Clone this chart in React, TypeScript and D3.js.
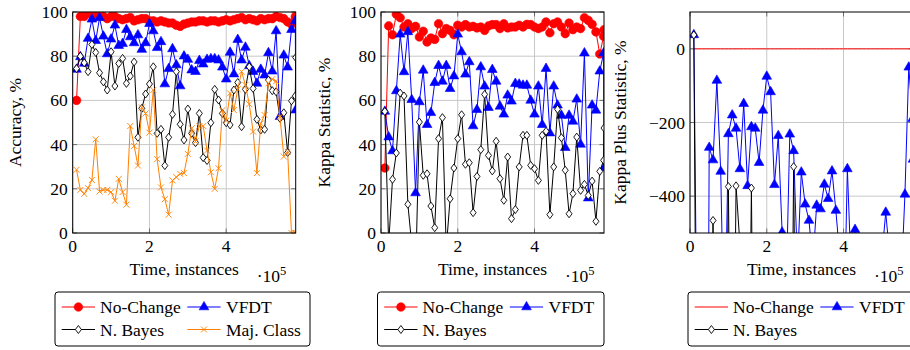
import React from "react";
import * as d3 from "d3";

// x positions: instances seen so far (covertype stream, 581012 rows)
const instances = [
  10000, 20000, 30000, 40000, 50000, 60000, 70000, 80000, 90000, 100000,
  110000, 120000, 130000, 140000, 150000, 160000, 170000, 180000, 190000, 200000,
  210000, 220000, 230000, 240000, 250000, 260000, 270000, 280000, 290000, 300000,
  310000, 320000, 330000, 340000, 350000, 360000, 370000, 380000, 390000, 400000,
  410000, 420000, 430000, 440000, 450000, 460000, 470000, 480000, 490000, 500000,
  510000, 520000, 530000, 540000, 550000, 560000, 570000, 580000, 581012
];
const xMax = 581012;
const xTicks = [0, 200000, 400000];
const xTickLabels = ["0", "2", "4"];

const accuracyTicks = [0, 20, 40, 60, 80, 100];
const kappaTicks = [0, 20, 40, 60, 80, 100];
const kappaPlusTicks = [-400, -200, 0];
const kappaPlusTickLabels = ["\u2212400", "\u2212200", "0"];

// Accuracy, %
const accNoChange = [
  60, 98, 98, 99.5, 99, 98, 98.5, 98, 97, 98, 98, 97, 96.5, 97, 97.5, 96, 96.5, 97, 97, 96,
  96, 95.5, 96, 95.5, 95, 95, 94, 93.5, 94.5, 95, 95.5, 95.5, 96, 96, 95.5, 96, 96, 95.5, 96, 96.5,
  96, 96.5, 97, 97.5, 96.5, 97, 96.5, 96, 97, 96.5, 97, 97, 98, 97.5, 97, 95.5, 94.5, 98, 97
];
const accVFDT = [
  74, 79.7, 76.7, 88, 96.7, 87, 97.4, 89, 81, 87.7, 94, 84.8, 85.7, 92, 88.7, 86, 89.6, 83, 86, 94.7,
  91.4, 83.8, 86.5, 67.4, 74.3, 83.3, 76, 66.5, 80, 78.5, 73.7, 73, 78, 76.4, 78.5, 78.8, 78.8, 78.2, 75, 69.6,
  81.7, 71.9, 87.5, 78.2, 84, 75.6, 73, 67.7, 74, 71.4, 81.5, 73.2, 91.4, 52.6, 80.4, 75, 92, 96, 55.6
];
const accNB = [
  74.4, 80, 77, 73, 85.3, 81.7, 72.5, 68.4, 64.7, 82, 66.5, 76.7, 79, 67.7, 71, 77.4, 43.3, 56.4, 62.9, 67.4,
  75.2, 45.1, 46.9, 30.5, 43.3, 53.7, 73, 49.2, 42.1, 56.1, 45.1, 40.9, 54.1, 34.1, 32.8, 49.9, 65, 60.2, 54.1, 49.9,
  48.9, 64.7, 68.1, 48.1, 65, 75.2, 65.4, 51.4, 46.6, 46.9, 69.2, 64.4, 63.9, 51.9, 54.4, 36.4, 59.8, 62, 79.4
];
const accMajClass = [
  28.6, 19.5, 17.7, 20.3, 24, 42.4, 18.8, 19.5, 19.5, 18.5, 14.6, 24.5, 18.5, 12.8, 48.4, 39.4, 30.5, 56.8, 54.1, 45.4,
  64.7, 33.4, 20.6, 15.3, 8.3, 23.8, 25.3, 26.8, 27.1, 35.8, 47.4, 41.4, 48.4, 48.4, 37.3, 27.5, 20, 29.3, 55.6, 50.8,
  63.2, 55.6, 65, 73, 67, 58.3, 45.9, 27.1, 49.6, 53.4, 67.7, 69.6, 68.7, 52.6, 34.6, 36.8, 0, 0, 0
];

// Kappa Statistic, %
const kappaNoChange = [
  29.4, 93.7, 89.7, 99, 97.4, 93.2, 94.7, 92.5, 93.5, 88.7, 91.3, 86.4, 88.2, 87.6, 94.7, 90.2, 92.5, 91.7, 89.7, 94,
  93.2, 94.3, 93.2, 93.5, 92.8, 93.2, 91.7, 93.7, 94.3, 94.3, 92.5, 94.7, 92.8, 93.2, 93.2, 94, 93.2, 94.4, 94.3, 93.2,
  92.5, 93.2, 95.5, 90.6, 94.7, 95.5, 93.2, 90.2, 95, 92, 93.2, 92.5, 97.4, 96.2, 94.4, 91, 81, 89, 92
];
const kappaVFDT = [
  55, 43.4, 37.1, 64.3, 89.9, 72.9, 91, 60.3, 18.1, 59.3, 73.6, 49, 54.4, 68, 75.7, 68.6, 75.7, 65.3, 71, 89.9,
  81.9, 71.8, 77.4, 48.4, 55.8, 75.1, 66.4, 56.7, 73.9, 68.6, 57.3, 53.7, 62.3, 59.6, 67.6, 67.3, 66.8, 66.8, 60, 53.7,
  66.4, 49, 74.4, 45.2, 66.4, 57.8, 53.2, 38.6, 53.2, 50.5, 60.5, 40.1, 81.4, 15.8, 57.8, 55.5, 73.2, 81.4, 29.4
];
const kappaNB = [
  55, -5, 24.3, 36.2, 63.3, 62, 13, -5, -20, 50.2, 26.1, 26.8, 12.2, 2.4, 42.7, 52.2, -7, 15.5, 29.4, 42.7,
  53.5, 31.1, 31.8, 9.2, 25.6, 37.7, 62.7, 35.1, 28.1, 41.5, 24.6, 14.8, 34.4, 6.5, 10.6, 29.9, 44.2, 44.2, 30.6, 29.1,
  23.8, 44.2, 46, 8.3, 29.9, 56, 43.1, 28.4, 8.7, 17.8, 43.4, 19.3, 22, 17, 23.5, 5.3, 27.9, 32.9, 47.5
];

// Kappa Plus Statistic, %
const kplusNoChange = [
  0, 0, 0, 0, 0, 0, 0, 0, 0, 0, 0, 0, 0, 0, 0, 0, 0, 0, 0, 0,
  0, 0, 0, 0, 0, 0, 0, 0, 0, 0, 0, 0, 0, 0, 0, 0, 0, 0, 0, 0,
  0, 0, 0, 0, 0, 0, 0, 0, 0, 0, 0, 0, 0, 0, 0, 0, 0, 0, 0
];
const kplusVFDT = [
  37.8, -1000, -1200, -2500, -268, -302, -86, -333, -850, -231, -180, -216, -326, -149, -372, -212, -216, -309, -167, -75,
  -117, -369, -236, -498, -680, -232, -277, -590, -335, -422, -466, -580, -425, -435, -368, -407, -332, -439, -560, -820,
  -326, -610, -491, -700, -900, -1100, -950, -1200, -1000, -560, -444, -560, -900, -1300, -640, -395, -50, -190, -300
];
const kplusNB = [
  37.8, -1500, -1800, -1600, -1400, -466, -1500, -1700, -1300, -374, -1400, -372, -530, -1600, -1300, -378, -1500, -1400, -1600, -1500,
  -1700, -1400, -1600, -1500, -1300, -1500, -320, -1400, -1600, -1500, -1700, -1400, -1600, -1500, -1800, -1500, -1400, -1600, -1500, -1700,
  -1400, -1600, -1500, -1800, -1400, -1600, -1500, -1700, -1400, -1600, -1500, -1800, -1400, -1600, -1500, -1700, -1400, -1600, -1500
];

type Mark = "circle" | "triangle" | "diamond" | "x" | "none";
type Series = { name: string; values: number[]; color: string; mark: Mark };

const FONT = "'Liberation Serif', 'Times New Roman', serif";
const FS = 17.5;
const TOP = 12;
const BOTTOM = 233;
const PW = 223;

const RED = "#ff0000";
const BLUE = "#0000ff";
const ORANGE = "#ff8000";

function Marker({ mark, color, x, y }: { mark: Mark; color: string; x: number; y: number }) {
  if (mark === "circle") {
    return <circle cx={x} cy={y} r={4.3} fill={color} stroke={color} strokeWidth={0.6} />;
  }
  if (mark === "triangle") {
    const r = 5.6;
    const pts = [[x, y - r], [x + r * 0.866, y + r / 2], [x - r * 0.866, y + r / 2]];
    return <polygon points={pts.map(p => p.join(",")).join(" ")} fill={color} stroke={color} strokeWidth={0.6} />;
  }
  if (mark === "diamond") {
    const pts = [[x, y - 4], [x + 3, y], [x, y + 4], [x - 3, y]];
    return <polygon points={pts.map(p => p.join(",")).join(" ")} fill="white" stroke={color} strokeWidth={0.9} />;
  }
  if (mark === "x") {
    const s = 3;
    return (
      <g stroke={color} strokeWidth={0.9}>
        <line x1={x - s} y1={y - s} x2={x + s} y2={y + s} />
        <line x1={x - s} y1={y + s} x2={x + s} y2={y - s} />
      </g>
    );
  }
  return null;
}

type PanelProps = {
  id: string;
  left: number;
  yDomain: [number, number];
  yTicks: number[];
  yTickLabels: string[];
  yLabel: string;
  yLabelX: number;
  series: Series[];
  legendLeft: number;
  legendWidth: number;
};

function Panel(props: PanelProps) {
  const { id, left, yDomain, yTicks, yTickLabels, yLabel, yLabelX, series, legendLeft, legendWidth } = props;
  const x = d3.scaleLinear().domain([0, xMax]).range([left, left + PW]);
  const y = d3.scaleLinear().domain(yDomain).range([BOTTOM, TOP]);
  const line = d3
    .line<number>()
    .x((d, i) => x(instances[i]))
    .y(d => y(d));

  const tickLen = 4.5;

  // legend layout: two columns, rows of two
  const legendTop = 292;
  const legendRows = [307, 329.5];
  const colLine = [6.7, 132.3];
  const colText = [45, 171];

  return (
    <g>
      <defs>
        <clipPath id={id}>
          <rect x={left} y={TOP} width={PW} height={BOTTOM - TOP} />
        </clipPath>
      </defs>

      {/* grid */}
      <g stroke="#c8c8c8" strokeWidth={1}>
        {xTicks.map(t => (
          <line key={`gx-${t}`} x1={x(t)} x2={x(t)} y1={TOP} y2={BOTTOM} />
        ))}
        {yTicks.map(t => (
          <line key={`gy-${t}`} x1={left} x2={left + PW} y1={y(t)} y2={y(t)} />
        ))}
      </g>

      {/* ticks, inside on all sides */}
      <g stroke="#555" strokeWidth={0.8}>
        {xTicks.map(t => (
          <g key={`tx-${t}`}>
            <line x1={x(t)} x2={x(t)} y1={BOTTOM} y2={BOTTOM - tickLen} />
            <line x1={x(t)} x2={x(t)} y1={TOP} y2={TOP + tickLen} />
          </g>
        ))}
        {yTicks.map(t => (
          <g key={`ty-${t}`}>
            <line x1={left} x2={left + tickLen} y1={y(t)} y2={y(t)} />
            <line x1={left + PW} x2={left + PW - tickLen} y1={y(t)} y2={y(t)} />
          </g>
        ))}
      </g>

      {/* data */}
      <g clipPath={`url(#${id})`}>
        {series.map(s => (
          <g key={s.name}>
            <path d={line(s.values) || ""} fill="none" stroke={s.color} strokeWidth={1} />
            {s.mark !== "none" &&
              s.values.map((v, i) => (
                <Marker key={i} mark={s.mark} color={s.color} x={x(instances[i])} y={y(v)} />
              ))}
          </g>
        ))}
      </g>

      {/* frame */}
      <rect x={left} y={TOP} width={PW} height={BOTTOM - TOP} fill="none" stroke="#000" strokeWidth={1} />

      {/* tick labels */}
      <g fontFamily={FONT} fontSize={FS} fill="#000">
        {xTicks.map((t, i) => (
          <text key={`lx-${t}`} x={x(t)} y={251.5} textAnchor="middle">
            {xTickLabels[i]}
          </text>
        ))}
        {yTicks.map((t, i) => (
          <text key={`ly-${t}`} x={left - 5} y={y(t) + 6} textAnchor="end">
            {yTickLabels[i]}
          </text>
        ))}
        <text x={left + PW / 2} y={274.7} textAnchor="middle">
          Time, instances
        </text>
        <text x={left + PW - 39} y={281.5}>
          {"\u00b710"}
          <tspan fontSize={12.5} dy={-7}>
            5
          </tspan>
        </text>
        <text
          transform={`translate(${yLabelX}, ${(TOP + BOTTOM) / 2}) rotate(-90)`}
          textAnchor="middle"
        >
          {yLabel}
        </text>
      </g>

      {/* legend */}
      <rect
        x={legendLeft}
        y={legendTop}
        width={legendWidth}
        height={54}
        rx={3}
        fill="white"
        stroke="#000"
        strokeWidth={1}
      />
      <g fontFamily={FONT} fontSize={FS}>
        {series.map((s, i) => {
          const col = i % 2;
          const row = Math.floor(i / 2);
          const ly = legendRows[row];
          const lx = legendLeft + colLine[col];
          return (
            <g key={`leg-${s.name}`}>
              <line x1={lx} x2={lx + 33.3} y1={ly} y2={ly} stroke={s.color} strokeWidth={1} />
              <Marker mark={s.mark} color={s.color} x={lx + 16.7} y={ly} />
              <text x={legendLeft + colText[col]} y={ly + 6}>
                {s.name}
              </text>
            </g>
          );
        })}
      </g>
    </g>
  );
}

export default function App() {
  const accSeries: Series[] = [
    { name: "No-Change", values: accNoChange, color: RED, mark: "circle" },
    { name: "VFDT", values: accVFDT, color: BLUE, mark: "triangle" },
    { name: "N. Bayes", values: accNB, color: "#000", mark: "diamond" },
    { name: "Maj. Class", values: accMajClass, color: ORANGE, mark: "x" }
  ];
  const kappaSeries: Series[] = [
    { name: "No-Change", values: kappaNoChange, color: RED, mark: "circle" },
    { name: "VFDT", values: kappaVFDT, color: BLUE, mark: "triangle" },
    { name: "N. Bayes", values: kappaNB, color: "#000", mark: "diamond" }
  ];
  const kplusSeries: Series[] = [
    { name: "No-Change", values: kplusNoChange, color: RED, mark: "none" },
    { name: "VFDT", values: kplusVFDT, color: BLUE, mark: "triangle" },
    { name: "N. Bayes", values: kplusNB, color: "#000", mark: "diamond" }
  ];

  return (
    <svg
      width={910}
      height={350}
      style={{ position: "absolute", left: 0, top: 0, background: "white" }}
    >
      <Panel
        id="clip-acc"
        left={72.7}
        yDomain={[0, 100]}
        yTicks={accuracyTicks}
        yTickLabels={accuracyTicks.map(String)}
        yLabel="Accuracy, %"
        yLabelX={21.2}
        series={accSeries}
        legendLeft={55}
        legendWidth={255}
      />
      <Panel
        id="clip-kappa"
        left={381}
        yDomain={[0, 100]}
        yTicks={kappaTicks}
        yTickLabels={kappaTicks.map(String)}
        yLabel="Kappa Statistic, %"
        yLabelX={329.5}
        series={kappaSeries}
        legendLeft={377.5}
        legendWidth={226.5}
      />
      <Panel
        id="clip-kplus"
        left={690}
        yDomain={[-500, 100]}
        yTicks={kappaPlusTicks}
        yTickLabels={kappaPlusTickLabels}
        yLabel="Kappa Plus Statistic, %"
        yLabelX={625.5}
        series={kplusSeries}
        legendLeft={688}
        legendWidth={226.5}
      />
    </svg>
  );
}
